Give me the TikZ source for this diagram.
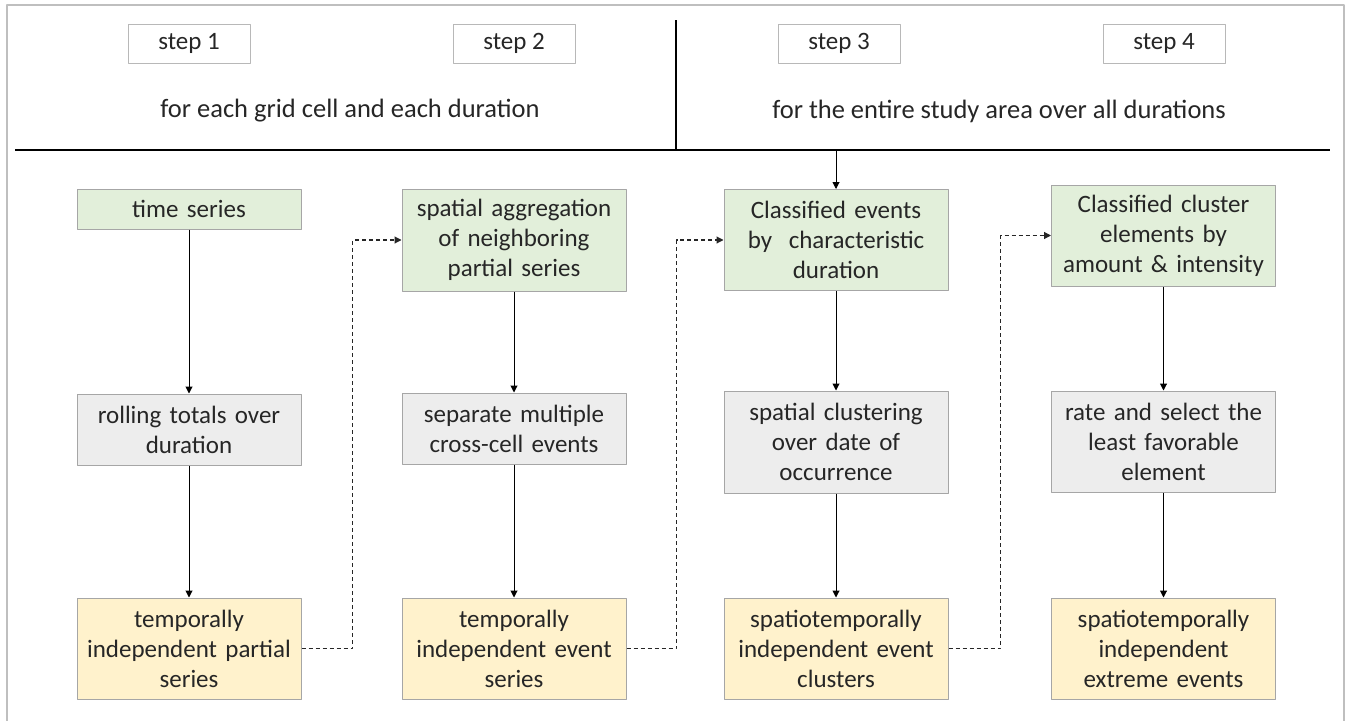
\documentclass[tikz,border=0pt]{standalone}
\usepackage{fontspec}
\setmainfont{Carlito}
\usetikzlibrary{positioning,arrows.meta}
\begin{document}
\begin{tikzpicture}[x=1pt,y=-1pt,line join=round,>={Triangle[length=7pt,width=7pt]},font=\fontsize{25}{30}\selectfont]
		%\draw[gray!50] (0,0) grid[step=50] (1346,720);
		\definecolor{boxgreen}{HTML}{E2EFDA}
		\definecolor{boxgray}{HTML}{EDEDED}
		\definecolor{boxyellow}{HTML}{FFF2CC}
		\definecolor{edgegray}{HTML}{A6A6A6}
		\definecolor{txt}{HTML}{262626}
		\tikzset{
			box/.style={draw=edgegray,line width=1pt,text=txt,align=center,text width=218pt,inner sep=0pt,minimum width=224pt},
			green/.style={box,fill=boxgreen},
			grey/.style={box,fill=boxgray},
			yellow/.style={box,fill=boxyellow,minimum height=101pt},
			stepbox/.style={draw=edgegray!80,line width=1pt,fill=white,text=txt,minimum width=122pt,minimum height=39pt,inner sep=0pt},
			flow/.style={->,line width=1pt,black},
			jump/.style={->,line width=1.1pt,black!85,dash pattern=on 4pt off 3pt}
		}
		\useasboundingbox (0,0) rectangle (1346,720);
		\draw[black!25,line width=2pt] (6.5,730) -- (6.5,5) -- (1344,5) -- (1344,730);
		
		% header
		\draw[line width=2pt] (15,150)--(1330,150);
		\draw[line width=1.6pt] (676,20)--(676,150);
		\coordinate (split) at (836,150);
		\node[stepbox] (s1) at (189,43.5) {step 1};
		\node[stepbox] (s2) at (514,43.5) {step 2};
		\node[stepbox] (s3) at (839,43.5) {step 3};
		\node[stepbox] (s4) at (1164,43.5) {step 4};
		\node[text=txt,font=\fontsize{26.5}{30}\selectfont] (cell) at (350,111) {for each grid cell and each duration};
		\node[text=txt,font=\fontsize{26.5}{30}\selectfont] (area) at (999,111) {for the entire study area over all durations};
		
		% column 1
		\node[green,minimum height=40pt] (ts) at (189,209) {time series};
		\node[grey,minimum height=71pt] (roll) at (189,429.5) {rolling totals over\\duration};
		\node[yellow] (tip) at (189,648.5) {temporally\\independent partial\\series};
		% column 2
		\node[green,minimum height=102pt] (agg) at (514,240) {spatial aggregation\\of neighboring\\partial series};
		\node[grey,minimum height=71pt] (sep) at (514,428.5) {separate multiple\\cross-cell events};
		\node[yellow] (tie) at (514,648.5) {temporally\\independent event\\series};
		% column 3
		\node[green,minimum height=101pt] (cls) at (836,240) {Classified events\\by\ \ characteristic\\duration};
		\node[grey,minimum height=102pt] (spc) at (836,442) {spatial clustering\\over date of\\occurrence};
		\node[yellow] (stc) at (836,648.5) {spatiotemporally\\independent event\\clusters};
		% column 4
		\node[green,minimum height=101pt] (clu) at (1163.5,235.5) {Classified cluster\\elements by\\amount \& intensity};
		\node[grey,minimum height=101pt] (rate) at (1163.5,441.5) {rate and select the\\least favorable\\element};
		\node[yellow] (ste) at (1163.5,648.5) {spatiotemporally\\independent\\extreme events};
		
		\draw[flow] (ts)--(roll);
		\draw[flow] (roll)--(tip);
		\draw[flow] (agg)--(sep);
		\draw[flow] (sep)--(tie);
		\draw[flow] (split)--(cls);
		\draw[flow] (cls)--(spc);
		\draw[flow] (spc)--(stc);
		\draw[flow] (clu)--(rate);
		\draw[flow] (rate)--(ste);
		
		\draw[jump] (tip.east)--++(51,0)|-(agg.west);
		\draw[jump] (tie.east)--++(50,0)|-(cls.west);
		\draw[jump] (stc.east)--++(52,0)|-(clu.west);
	\end{tikzpicture}
\end{document}
